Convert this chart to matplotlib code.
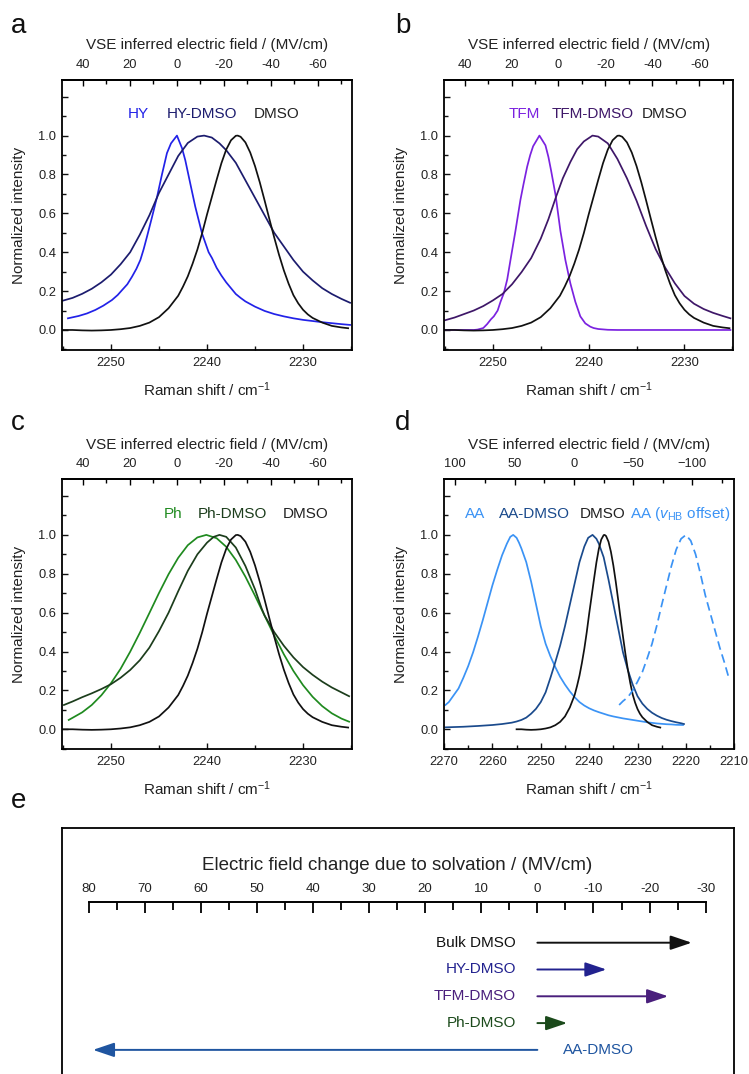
import matplotlib
matplotlib.use("Agg")
import matplotlib.pyplot as plt
from matplotlib.ticker import MultipleLocator, FixedLocator, FuncFormatter

plt.rcParams['font.family'] = ['Liberation Sans', 'DejaVu Sans']
plt.rcParams['mathtext.fontset'] = 'custom'
plt.rcParams['mathtext.rm'] = 'Liberation Sans'
plt.rcParams['mathtext.it'] = 'Liberation Sans:italic'
plt.rcParams['mathtext.bf'] = 'Liberation Sans:bold'

# ---------------- data ----------------
# Stark tuning used for the top axis
NU0 = 2243.15      # cm-1 at zero field
RATE = 0.245       # cm-1 per MV/cm

# bulk DMSO nitrile band (same spectrum in panels a-d)
dmso_x = [2255, 2254, 2253, 2252, 2251, 2250, 2249, 2248, 2247, 2246, 2245, 2244, 2243,
          2242.5, 2242, 2241.5, 2241, 2240.5, 2240, 2239.5, 2239, 2238.5, 2238, 2237.5,
          2237, 2236.8, 2236.5, 2236, 2235.5, 2235, 2234.5, 2234, 2233.5, 2233, 2232.5,
          2232, 2231.5, 2231, 2230.5, 2230, 2229.5, 2229, 2228, 2227, 2226, 2225.3]
dmso_y = [0.0, 0.0, -0.002, -0.003, -0.002, 0.0, 0.004, 0.010, 0.021, 0.038, 0.066, 0.112, 0.176,
          0.223, 0.276, 0.341, 0.414, 0.499, 0.594, 0.683, 0.772, 0.858, 0.928, 0.976,
          0.999, 1.0, 0.994, 0.965, 0.913, 0.843, 0.759, 0.666, 0.570, 0.476, 0.387,
          0.307, 0.238, 0.179, 0.137, 0.104, 0.08, 0.062, 0.038, 0.021, 0.013, 0.009]

# panel a
hy_x = [2254.48, 2253.37, 2252.5, 2251.63, 2250.8, 2249.9, 2249.3, 2248.85, 2248.3, 2247.81,
        2247.35, 2246.94, 2246.6, 2246.25, 2245.73, 2245.2, 2244.69, 2244.17, 2243.75, 2243.13,
        2242.6, 2242.26, 2241.74, 2241.22, 2240.52, 2239.83, 2239.48, 2239.0, 2238.5, 2238.0,
        2237.5, 2237.0, 2236.5, 2236.0, 2235.0, 2234.0, 2233.0, 2232.0, 2231.0, 2230.0,
        2229.0, 2228.0, 2227.0, 2226.0, 2225.1]
hy_y = [0.06, 0.072, 0.085, 0.103, 0.125, 0.154, 0.18, 0.205, 0.235, 0.274,
        0.315, 0.36, 0.415, 0.48, 0.58, 0.685, 0.80, 0.91, 0.96, 1.0,
        0.935, 0.873, 0.753, 0.634, 0.497, 0.40, 0.37, 0.32, 0.28, 0.245,
        0.215, 0.185, 0.165, 0.147, 0.12, 0.098, 0.082, 0.07, 0.06, 0.052,
        0.046, 0.04, 0.035, 0.03, 0.026]
hyd_x = [2255, 2254, 2253, 2252, 2251, 2250, 2249, 2248, 2247, 2246, 2245, 2244, 2243, 2242,
         2241, 2240.3, 2239.5, 2238.7, 2238, 2237, 2236, 2235, 2234, 2233, 2232, 2231, 2230,
         2229, 2228, 2227, 2226, 2225.1]
hyd_y = [0.151, 0.165, 0.186, 0.212, 0.245, 0.285, 0.338, 0.40, 0.49, 0.59, 0.705, 0.80, 0.895, 0.962,
         0.995, 1.0, 0.99, 0.96, 0.925, 0.86, 0.77, 0.68, 0.59, 0.50, 0.43, 0.36, 0.30,
         0.255, 0.215, 0.185, 0.16, 0.14]

# panel b
tfm_x = [2255.1, 2252.0, 2251.6, 2251.0, 2250.6, 2250.2, 2249.9, 2249.5, 2249.2, 2248.85,
         2248.5, 2248.16, 2247.64, 2247.12, 2246.8, 2246.42, 2246.1, 2245.8, 2245.14, 2244.51,
         2244.2, 2243.92, 2243.44, 2242.95, 2242.43, 2241.91, 2241.39, 2240.87, 2240.35, 2239.83,
         2239.48, 2239.0, 2238.0, 2237.0, 2225.2]
tfm_y = [0.0, 0.0, 0.002, 0.01, 0.03, 0.055, 0.07, 0.10, 0.145, 0.19,
         0.26, 0.36, 0.51, 0.67, 0.75, 0.84, 0.90, 0.945, 1.0, 0.95,
         0.89, 0.82, 0.69, 0.51, 0.36, 0.24, 0.145, 0.07, 0.034, 0.017,
         0.01, 0.005, 0.001, 0.0, 0.0]
tfmd_x = [2255.0, 2254, 2253, 2252, 2251, 2250, 2249, 2248, 2247, 2246, 2245, 2244.2, 2243.44,
          2242.7, 2241.9, 2241.2, 2240.5, 2239.6, 2239, 2238, 2237, 2236, 2235, 2234, 2233,
          2232, 2231, 2230, 2229, 2228, 2227, 2226, 2225.2]
tfmd_y = [0.05, 0.064, 0.082, 0.10, 0.123, 0.152, 0.185, 0.235, 0.298, 0.37, 0.47, 0.57, 0.68,
          0.78, 0.865, 0.93, 0.97, 1.0, 0.995, 0.96, 0.88, 0.78, 0.665, 0.535, 0.415,
          0.32, 0.24, 0.175, 0.135, 0.108, 0.088, 0.072, 0.06]

# panel c
ph_x = [2254.4, 2254, 2253, 2252, 2251, 2250, 2249, 2248, 2247, 2246, 2245, 2244, 2243, 2242,
        2241, 2240.07, 2239, 2238, 2237, 2236, 2235, 2234, 2233, 2232, 2231, 2230, 2229, 2228,
        2227, 2226, 2225.2]
ph_y = [0.048, 0.059, 0.087, 0.125, 0.175, 0.237, 0.311, 0.399, 0.496, 0.598, 0.701, 0.798, 0.882,
        0.947, 0.987, 1.0, 0.983, 0.939, 0.871, 0.785, 0.687, 0.584, 0.482, 0.386, 0.300, 0.227,
        0.167, 0.119, 0.082, 0.055, 0.039]
phd_x = [2254.9, 2254, 2253, 2252, 2251, 2250, 2249, 2248, 2247, 2246, 2245, 2244, 2243, 2242,
         2241, 2240, 2239.3, 2238.7, 2238, 2237, 2236, 2235, 2234.3, 2234, 2233, 2232, 2231,
         2230, 2229, 2228, 2227, 2226, 2225.2]
phd_y = [0.125, 0.143, 0.165, 0.185, 0.207, 0.232, 0.265, 0.305, 0.355, 0.42, 0.505, 0.60, 0.71,
         0.815, 0.90, 0.96, 0.99, 1.0, 0.99, 0.935, 0.84, 0.72, 0.62, 0.585, 0.50, 0.43, 0.37,
         0.32, 0.28, 0.245, 0.215, 0.19, 0.17]

# panel d
aa_x = [2269.7, 2269, 2268, 2267, 2266, 2265, 2264, 2263, 2262, 2261, 2260, 2259, 2258, 2257,
        2256.3, 2255.7, 2255, 2254.5, 2254, 2253, 2252, 2251, 2250, 2249, 2248, 2247, 2246,
        2245, 2244, 2243, 2242, 2241, 2240, 2239, 2238, 2237, 2236, 2235, 2234, 2233, 2232,
        2231, 2230, 2229, 2228, 2227, 2226, 2225, 2224, 2223, 2222, 2220.6]
aa_y = [0.125, 0.14, 0.175, 0.21, 0.265, 0.325, 0.395, 0.475, 0.56, 0.65, 0.74, 0.82, 0.895, 0.955,
        0.99, 1.0, 0.985, 0.96, 0.93, 0.86, 0.76, 0.645, 0.53, 0.44, 0.375, 0.32, 0.27,
        0.23, 0.195, 0.165, 0.14, 0.122, 0.108, 0.097, 0.088, 0.08, 0.072, 0.066, 0.061, 0.056, 0.052,
        0.048, 0.044, 0.04, 0.036, 0.033, 0.03, 0.028, 0.026, 0.025, 0.023, 0.022]
aad_x = [2269.7, 2266, 2263, 2260, 2258, 2256, 2255, 2254, 2253, 2252, 2251, 2250, 2249, 2248,
         2247, 2246, 2245, 2244, 2243, 2242, 2241, 2240.2, 2239.3, 2238.5, 2238, 2237, 2236,
         2235, 2234, 2233, 2232, 2231, 2230, 2229, 2228, 2227, 2226, 2225, 2224, 2223, 2222,
         2221, 2220.4]
aad_y = [0.01, 0.013, 0.017, 0.022, 0.027, 0.034, 0.04, 0.048, 0.06, 0.08, 0.105, 0.14, 0.19, 0.265,
         0.345, 0.43, 0.53, 0.64, 0.75, 0.86, 0.94, 0.985, 1.0, 0.98, 0.955, 0.885, 0.77,
         0.645, 0.52, 0.395, 0.305, 0.23, 0.17, 0.132, 0.105, 0.085, 0.07, 0.058, 0.049, 0.042, 0.036,
         0.031, 0.027]
aahb_x = [2233.8, 2233, 2232, 2231, 2230, 2229, 2228, 2227, 2226, 2225, 2224, 2223, 2222, 2221,
          2220, 2219, 2218, 2217, 2216, 2215, 2214, 2213, 2212, 2211.2]
aahb_y = [0.125, 0.145, 0.165, 0.2, 0.245, 0.295, 0.365, 0.44, 0.535, 0.64, 0.74, 0.84, 0.925, 0.98,
          1.0, 0.97, 0.9, 0.8, 0.69, 0.6, 0.51, 0.42, 0.34, 0.27]

# panel e: field change due to solvation (MV/cm)
e_labels = ['Bulk DMSO', 'HY-DMSO', 'TFM-DMSO', 'Ph-DMSO', 'AA-DMSO']
e_shift = [-27.5, -12.3, -23.3, -5.3, 79.2]

# ---------------- styling ----------------
C_HY, C_HYD = '#2222e8', '#1c1c6e'
C_TFM, C_TFMD = '#7b22e0', '#3e1768'
C_PH, C_PHD = '#1f8a1f', '#1c3d1c'
C_AA, C_AAD = '#3b93f5', '#1a4a8c'
C_BLK = '#111111'
C_TXT = '#222222'
e_colors = ['#111111', '#22228f', '#4a1f7c', '#1b4a1b', '#1f55a0']

W, H = 749, 1074
fig = plt.figure(figsize=(W / 100, H / 100), dpi=100)


def px_axes(l, t, r, b):
    return fig.add_axes([l / W, 1 - b / H, (r - l) / W, (b - t) / H])


def nu2F(nu):
    return (nu - NU0) / RATE


def F2nu(F):
    return F * RATE + NU0


hyphen_fmt = FuncFormatter(lambda v, p: ('%d' % round(v)))


def style_panel(ax, xlim, xmaj, xmin, fmaj, fmin, top_fmt):
    ax.set_xlim(*xlim)
    ax.set_ylim(-0.103, 1.286)
    for s in ax.spines.values():
        s.set_linewidth(1.3)
    ax.xaxis.set_major_locator(MultipleLocator(xmaj))
    ax.xaxis.set_minor_locator(MultipleLocator(xmin))
    ax.yaxis.set_major_locator(MultipleLocator(0.2))
    ax.yaxis.set_minor_locator(MultipleLocator(0.1))
    ax.yaxis.set_major_formatter(FuncFormatter(lambda v, p: '%.1f' % v if -0.01 < v < 1.05 else ''))
    ax.tick_params(which='both', direction='in', top=False, right=False, labelsize=9.3,
                   colors='#111111', labelcolor=C_TXT)
    ax.tick_params(which='major', length=4.5, width=1.0)
    ax.tick_params(which='minor', length=3, width=1.0)
    ax.tick_params(axis='x', pad=5)
    ax.tick_params(axis='y', pad=4)
    ax.set_xlabel('Raman shift / cm$^{-1}$', fontsize=11, color=C_TXT, labelpad=8)
    ax.set_ylabel('Normalized intensity', fontsize=11, color=C_TXT, labelpad=9)
    sec = ax.secondary_xaxis('top', functions=(nu2F, F2nu))
    sec.spines['top'].set_linewidth(1.3)
    sec.xaxis.set_major_locator(FixedLocator(fmaj))
    sec.xaxis.set_minor_locator(FixedLocator(fmin))
    if top_fmt is not None:
        sec.xaxis.set_major_formatter(top_fmt)
    sec.tick_params(which='both', direction='in', labelsize=9.3, labelcolor=C_TXT, pad=6.5)
    sec.tick_params(which='major', length=4.5, width=1.0)
    sec.tick_params(which='minor', length=3, width=1.0)
    sec.set_xlabel('VSE inferred electric field / (MV/cm)', fontsize=11, color=C_TXT, labelpad=7)
    return sec


LW = 1.25
F_MAJ = [40, 20, 0, -20, -40, -60]
F_MIN = [30, 10, -10, -30, -50, -70]
FD_MAJ = [100, 50, 0, -50, -100]
FD_MIN = [75, 25, -25, -75, -125]

# panel a
ax_a = px_axes(62, 80, 352, 350)
ax_a.plot(hy_x, hy_y, color=C_HY, lw=LW)
ax_a.plot(hyd_x, hyd_y, color=C_HYD, lw=LW)
ax_a.plot(dmso_x, dmso_y, color=C_BLK, lw=LW)
style_panel(ax_a, (2255.1, 2224.9), 10, 5, F_MAJ, F_MIN, hyphen_fmt)
ax_a.text(2247.2, 1.11, 'HY', color=C_HY, fontsize=11, ha='center', va='center')
ax_a.text(2240.55, 1.11, 'HY-DMSO', color=C_HYD, fontsize=11, ha='center', va='center')
ax_a.text(2232.8, 1.11, 'DMSO', color=C_TXT, fontsize=11, ha='center', va='center')

# panel b
ax_b = px_axes(444, 80, 733.3, 350)
ax_b.plot(tfm_x, tfm_y, color=C_TFM, lw=LW)
ax_b.plot(tfmd_x, tfmd_y, color=C_TFMD, lw=LW)
ax_b.plot(dmso_x, dmso_y, color=C_BLK, lw=LW)
style_panel(ax_b, (2255.1, 2224.9), 10, 5, F_MAJ, F_MIN, hyphen_fmt)
ax_b.text(2246.7, 1.11, 'TFM', color=C_TFM, fontsize=11, ha='center', va='center')
ax_b.text(2239.55, 1.11, 'TFM-DMSO', color=C_TFMD, fontsize=11, ha='center', va='center')
ax_b.text(2232.1, 1.11, 'DMSO', color=C_TXT, fontsize=11, ha='center', va='center')

# panel c
ax_c = px_axes(62, 479.3, 352, 749.3)
ax_c.plot(ph_x, ph_y, color=C_PH, lw=LW)
ax_c.plot(phd_x, phd_y, color=C_PHD, lw=LW)
ax_c.plot(dmso_x, dmso_y, color=C_BLK, lw=LW)
style_panel(ax_c, (2255.1, 2224.9), 10, 5, F_MAJ, F_MIN, hyphen_fmt)
ax_c.text(2243.5, 1.11, 'Ph', color=C_PH, fontsize=11, ha='center', va='center')
ax_c.text(2237.3, 1.11, 'Ph-DMSO', color=C_PHD, fontsize=11, ha='center', va='center')
ax_c.text(2229.7, 1.11, 'DMSO', color=C_TXT, fontsize=11, ha='center', va='center')

# panel d
ax_d = px_axes(444, 479.3, 734.3, 749.3)
ax_d.plot(aa_x, aa_y, color=C_AA, lw=LW)
ax_d.plot(aad_x, aad_y, color=C_AAD, lw=LW)
ax_d.plot(dmso_x, dmso_y, color=C_BLK, lw=LW)
ax_d.plot(aahb_x, aahb_y, color=C_AA, lw=LW, ls=(0, (5, 2.8)))
style_panel(ax_d, (2270, 2210), 10, 5, FD_MAJ, FD_MIN, None)
ax_d.text(2263.5, 1.11, 'AA', color=C_AA, fontsize=11, ha='center', va='center')
ax_d.text(2251.4, 1.11, 'AA-DMSO', color=C_AAD, fontsize=11, ha='center', va='center')
ax_d.text(2237.2, 1.11, 'DMSO', color=C_TXT, fontsize=11, ha='center', va='center')
ax_d.text(2221.2, 1.11, r'AA ($\mathit{v}_{\mathrm{HB}}$ offset)', color=C_AA, fontsize=11,
          ha='center', va='center')

# panel letters
for lab, x, y in [('a', 11, 33), ('b', 395, 33), ('c', 11, 430), ('d', 395, 430), ('e', 11, 808)]:
    fig.text(x / W, 1 - y / H, lab, fontsize=20, ha='left', va='baseline', color='#111111')

# panel e
ax_box = px_axes(62, 828.3, 734, 1090)
ax_box.set_xticks([])
ax_box.set_yticks([])
for s in ax_box.spines.values():
    s.set_linewidth(1.3)

ax_e = px_axes(88.5, 901.7, 705.7, 1074)
ax_e.set_xlim(80, -30)
ax_e.set_ylim(4.9, -1.53)
ax_e.patch.set_alpha(0)
for k in ['left', 'right', 'bottom']:
    ax_e.spines[k].set_visible(False)
ax_e.spines['top'].set_linewidth(1.4)
ax_e.set_yticks([])
ax_e.xaxis.set_ticks_position('top')
ax_e.xaxis.set_label_position('top')
ax_e.xaxis.set_major_locator(MultipleLocator(10))
ax_e.xaxis.set_minor_locator(MultipleLocator(5))
ax_e.xaxis.set_major_formatter(hyphen_fmt)
ax_e.tick_params(which='both', direction='in', labelsize=9.5, labelcolor=C_TXT, pad=5)
ax_e.tick_params(which='major', length=8, width=1.3)
ax_e.tick_params(which='minor', length=5.5, width=1.3)
ax_e.set_xlabel('Electric field change due to solvation / (MV/cm)', fontsize=13.5,
                color=C_TXT, labelpad=9)

for i, (lab, sh, col) in enumerate(zip(e_labels, e_shift, e_colors)):
    ax_e.annotate('', xy=(sh, i), xytext=(0, i),
                  arrowprops=dict(arrowstyle='-|>,head_length=0.65,head_width=0.22',
                                  color=col, lw=1.4, shrinkA=0, shrinkB=0,
                                  mutation_scale=20))
    if sh < 0:
        ax_e.text(3.85, i, lab, color=col, fontsize=11, ha='right', va='center')
    else:
        ax_e.text(-4.5, i, lab, color=col, fontsize=11, ha='left', va='center')

fig.savefig('out.png', dpi=100)
